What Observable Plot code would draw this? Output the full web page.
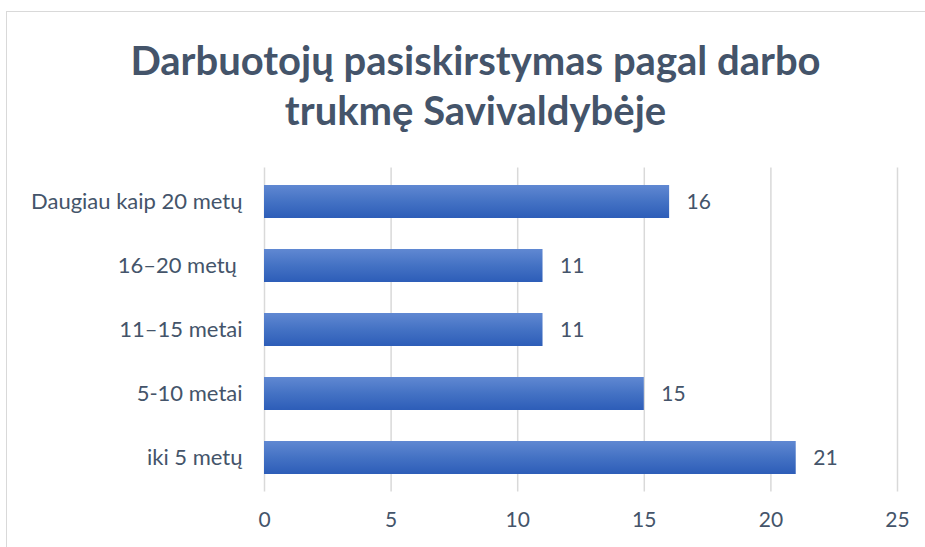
<!DOCTYPE html>
<html>
<head>
<meta charset="utf-8">
<script src="https://cdn.jsdelivr.net/npm/d3@7"></script>
<script src="https://cdn.jsdelivr.net/npm/@observablehq/plot@0.6"></script>
<style>
  html, body { margin: 0; padding: 0; background: #fff; width: 925px; height: 547px; overflow: hidden; }
  #frame { position: absolute; left: 6px; top: 11px; width: 1000px; height: 600px; border-left: 1px solid #D9D9D9; border-top: 1px solid #D9D9D9; }
  #title { position: absolute; left: 0; top: 35px; width: 951px; text-align: center; font-family: Lato, "Open Sans", sans-serif; font-weight: bold; font-size: 40px; line-height: 50px; color: #44546A; }
  #chart { position: absolute; left: 0; top: 150px; }
</style>
</head>
<body>
<div id="frame"></div>
<div id="title">Darbuotojų pasiskirstymas pagal darbo<br>trukmę Savivaldybėje</div>
<div id="chart"></div>
<script>
const categories = ["Daugiau kaip 20 metų", "16–20 metų\u00A0", "11–15 metai", "5-10 metai", "iki 5 metų"];
const values = [16, 11, 11, 15, 21];
const xTicks = [0, 5, 10, 15, 20, 25];

const data = categories.map((c, i) => ({category: c, value: values[i]}));

const svg = Plot.plot({
  width: 925,
  height: 390,
  marginLeft: 264,
  marginRight: 28,
  marginTop: 17.6,
  marginBottom: 48.4,
  style: {fontFamily: "Lato, 'Open Sans', sans-serif", fontSize: "21px", color: "#44546A", background: "transparent"},
  x: {domain: [0, 25], label: null},
  y: {domain: categories, paddingInner: 0.49, paddingOuter: 0.245, label: null},
  marks: [
    Plot.gridX(xTicks, {stroke: "#D9D9D9", strokeOpacity: 1, strokeWidth: 1.5}),
    Plot.barX(data, {x: "value", y: "category", fill: "url(#barGrad)"}),
    Plot.text(data, {x: "value", y: "category", text: d => String(d.value), dx: 17, textAnchor: "start", fill: "#44546A", fontSize: 21}),
    Plot.axisX({ticks: xTicks, tickSize: 0, tickPadding: 20, tickFormat: d => String(d), fontSize: 21}),
    Plot.axisY({tickSize: 0, tickPadding: 22, fontSize: 22})
  ]
});

const ns = "http://www.w3.org/2000/svg";
const defs = document.createElementNS(ns, "defs");
const grad = document.createElementNS(ns, "linearGradient");
grad.setAttribute("id", "barGrad");
grad.setAttribute("x1", "0"); grad.setAttribute("y1", "0");
grad.setAttribute("x2", "0"); grad.setAttribute("y2", "1");
[["0%", "#6088D2"], ["50%", "#4472C4"], ["100%", "#2D5DB8"]].forEach(([o, c]) => {
  const s = document.createElementNS(ns, "stop");
  s.setAttribute("offset", o); s.setAttribute("stop-color", c);
  grad.appendChild(s);
});
defs.appendChild(grad);
svg.insertBefore(defs, svg.firstChild);

document.getElementById("chart").appendChild(svg);
</script>
</body>
</html>
